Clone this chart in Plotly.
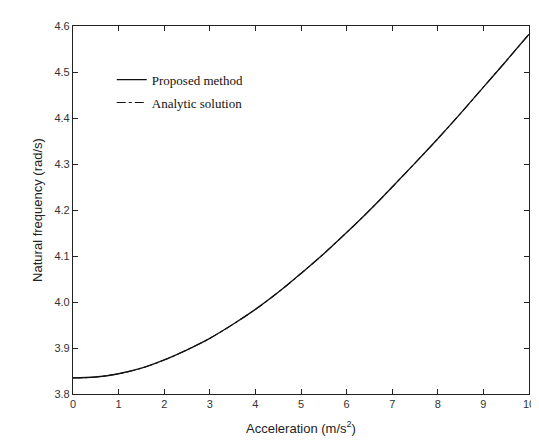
import plotly.graph_objects as go

accel = [0, 0.5, 1, 1.5, 2, 2.5, 3, 3.5, 4, 4.5, 5, 5.5, 6, 6.5, 7, 7.5, 8, 8.5, 9, 9.5, 10]
proposed = [3.835, 3.837, 3.844, 3.856, 3.874, 3.896, 3.921, 3.951, 3.984, 4.021,
            4.062, 4.105, 4.151, 4.199, 4.250, 4.302, 4.355, 4.410, 4.467, 4.524, 4.582]
analytic = [3.835, 3.837, 3.844, 3.856, 3.874, 3.896, 3.921, 3.951, 3.984, 4.021,
            4.062, 4.105, 4.151, 4.199, 4.250, 4.302, 4.355, 4.410, 4.467, 4.524, 4.582]
x_ticks = [0, 1, 2, 3, 4, 5, 6, 7, 8, 9, 10]
y_ticks = [3.8, 3.9, 4.0, 4.1, 4.2, 4.3, 4.4, 4.5, 4.6]

fig = go.Figure()
fig.add_trace(go.Scatter(x=accel, y=proposed, mode="lines", name="Proposed method",
                         legendgroup="a",
                         line=dict(color="#111111", width=1.3, shape="spline")))
fig.add_trace(go.Scatter(x=accel, y=analytic, mode="lines", name="Analytic solution",
                         legendgroup="b",
                         line=dict(color="#111111", width=1.1, dash="dashdot", shape="spline")))

axis_common = dict(showline=True, linecolor="#222222", linewidth=1.2, mirror="ticks",
                   ticks="inside", ticklen=5, tickcolor="#222222", showgrid=False,
                   zeroline=False, tickfont=dict(family="Liberation Sans, Arial", size=11, color="#333333"))

fig.update_xaxes(range=[0, 10], tickvals=x_ticks, ticktext=[str(v) for v in x_ticks],
                 title=dict(text="Acceleration (m/s<sup>2</sup>)", standoff=14,
                            font=dict(family="Liberation Sans, Arial", size=13, color="#222222")),
                 **axis_common)
fig.update_yaxes(range=[3.8, 4.6], tickvals=y_ticks, ticktext=[f"{v:.1f}" for v in y_ticks],
                 title=dict(text="Natural frequency (rad/s)", standoff=8,
                            font=dict(family="Liberation Sans, Arial", size=13, color="#222222")),
                 **axis_common)

fig.update_layout(
    width=539, height=444,
    margin=dict(l=65, r=16, t=15, b=58),
    plot_bgcolor="white", paper_bgcolor="white",
    legend=dict(x=0.085, y=0.895, xanchor="left", yanchor="top",
                bgcolor="rgba(0,0,0,0)", font=dict(family="Liberation Serif, Times New Roman", size=13, color="#111111"),
                itemwidth=30, tracegroupgap=3),
)

fig.write_html("out.html")
